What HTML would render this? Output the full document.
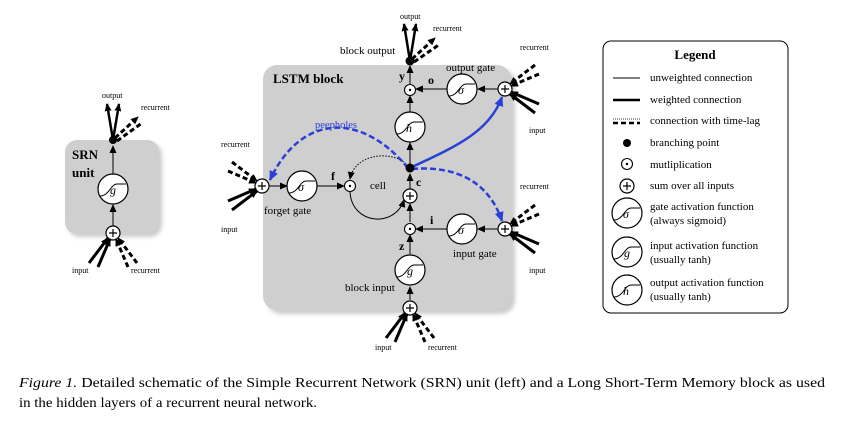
<!DOCTYPE html>
<html><head><meta charset="utf-8"><style>
html,body{margin:0;padding:0;background:#fff;}
svg{display:block;font-family:"Liberation Serif",serif;}
</style></head><body>
<svg width="847" height="423" viewBox="0 0 847 423" xmlns="http://www.w3.org/2000/svg">
<defs>
<marker id="a" markerUnits="userSpaceOnUse" markerWidth="8" markerHeight="8" refX="7" refY="4" orient="auto"><path d="M0,0.5 L8,4 L0,7.5 z" fill="#000"/></marker>
<marker id="b" markerUnits="userSpaceOnUse" markerWidth="10" markerHeight="10" refX="9" refY="5" orient="auto"><path d="M0,0.5 L10,5 L0,9.5 z" fill="#2a3fd8"/></marker>
<filter id="sh" x="-10%" y="-10%" width="130%" height="130%"><feGaussianBlur stdDeviation="2"/></filter>
<g id="act"><circle r="15" fill="#fff" stroke="#000" stroke-width="1.2"/><path d="M-13,7 C-4,7 -2,-5 4,-5 L13,-5" fill="none" stroke="#000" stroke-width="1"/></g>
<g id="sum"><circle r="7" fill="#fff" stroke="#000" stroke-width="1.2"/><path d="M-4,0 H4 M0,-4 V4" stroke="#000" stroke-width="1.2"/></g>
<g id="mul"><circle r="5.5" fill="#fff" stroke="#000" stroke-width="1.1"/><circle r="1.2" fill="#000"/></g>
<g id="inb"><line x1="-24" y1="30" x2="-5" y2="5" stroke="#000" stroke-width="3" marker-end="url(#a)"/><line x1="-15" y1="34" x2="-3" y2="6" stroke="#000" stroke-width="3" marker-end="url(#a)"/></g>
<g id="rcb"><line x1="24" y1="30" x2="5" y2="5" stroke="#000" stroke-width="3" stroke-dasharray="5,3" marker-end="url(#a)"/><line x1="15" y1="34" x2="3" y2="6" stroke="#000" stroke-width="3" stroke-dasharray="5,3" marker-end="url(#a)"/></g>
</defs>

<!-- SRN -->
<rect x="68" y="143" width="94" height="94" rx="12" fill="#999" opacity="0.5" filter="url(#sh)"/>
<rect x="65" y="140" width="94" height="94" rx="12" fill="#cfcfcf"/>
<text x="72" y="159" font-size="13" font-weight="bold">SRN</text>
<text x="72" y="177" font-size="13" font-weight="bold">unit</text>
<line x1="113" y1="226" x2="113" y2="205" stroke="#000" stroke-width="1" marker-end="url(#a)"/>
<line x1="113" y1="174" x2="113" y2="146" stroke="#000" stroke-width="1" marker-end="url(#a)"/>
<use href="#act" x="113" y="189"/>
<text x="110" y="194" font-size="12" font-style="italic">g</text>
<use href="#sum" x="113" y="233"/>
<g transform="translate(113,233)"><use href="#inb"/><use href="#rcb"/></g>
<circle cx="113" cy="140" r="4" fill="#000"/>
<line x1="113" y1="140" x2="107" y2="104" stroke="#000" stroke-width="2.5" marker-end="url(#a)"/>
<line x1="113" y1="140" x2="119" y2="104" stroke="#000" stroke-width="2.5" marker-end="url(#a)"/>
<line x1="115" y1="138" x2="138" y2="117" stroke="#000" stroke-width="3" stroke-dasharray="5,3" marker-end="url(#a)"/>
<line x1="117" y1="141" x2="142" y2="123" stroke="#000" stroke-width="3" stroke-dasharray="5,3"/>
<text x="102" y="98" font-size="8">output</text>
<text x="141" y="110" font-size="8">recurrent</text>
<text x="72" y="273" font-size="8">input</text>
<text x="131" y="273" font-size="8">recurrent</text>

<!-- LSTM box -->
<rect x="267" y="69" width="248" height="245" rx="14" fill="#999" opacity="0.5" filter="url(#sh)"/>
<rect x="263" y="65" width="248" height="245" rx="14" fill="#cfcfcf"/>
<text x="273" y="83" font-size="13" font-weight="bold">LSTM block</text>

<line x1="410" y1="300" x2="410" y2="287" stroke="#000" marker-end="url(#a)"/>
<line x1="410" y1="254" x2="410" y2="235" stroke="#000" marker-end="url(#a)"/>
<line x1="410" y1="222" x2="410" y2="204" stroke="#000" marker-end="url(#a)"/>
<line x1="410" y1="189" x2="410" y2="174" stroke="#000" marker-end="url(#a)"/>
<line x1="410" y1="168" x2="410" y2="143" stroke="#000" marker-end="url(#a)"/>
<line x1="410" y1="112" x2="410" y2="96" stroke="#000" marker-end="url(#a)"/>
<line x1="410" y1="84" x2="410" y2="66" stroke="#000" marker-end="url(#a)"/>
<line x1="498" y1="89" x2="478" y2="89" stroke="#000" marker-end="url(#a)"/>
<line x1="447" y1="89" x2="416" y2="89" stroke="#000" marker-end="url(#a)"/>
<line x1="498" y1="229" x2="478" y2="229" stroke="#000" marker-end="url(#a)"/>
<line x1="447" y1="229" x2="416" y2="229" stroke="#000" marker-end="url(#a)"/>
<line x1="269" y1="186" x2="287" y2="186" stroke="#000" marker-end="url(#a)"/>
<line x1="317" y1="186" x2="344" y2="186" stroke="#000" marker-end="url(#a)"/>
<path d="M350,192 C352,225 395,228 404,200" fill="none" stroke="#000" marker-end="url(#a)"/>
<path d="M408,166 C395,150 355,152 350,179" fill="none" stroke="#000" stroke-dasharray="1.5,1.5" marker-end="url(#a)"/>
<path d="M408,168 C360,110 300,115 270,180" fill="none" stroke="#2a3fd8" stroke-width="2.5" stroke-dasharray="6,3" marker-end="url(#b)"/>
<path d="M412,167 C460,145 490,130 502,97" fill="none" stroke="#2a3fd8" stroke-width="2.5" marker-end="url(#b)"/>
<path d="M412,169 C460,165 490,185 502,221" fill="none" stroke="#2a3fd8" stroke-width="2.5" stroke-dasharray="6,3" marker-end="url(#b)"/>
<text x="315" y="128" font-size="10.5" fill="#2a3fd8">peepholes</text>

<use href="#act" x="462" y="89"/><text x="458" y="94" font-size="12" font-style="italic">σ</text>
<use href="#act" x="462" y="229"/><text x="458" y="234" font-size="12" font-style="italic">σ</text>
<use href="#act" x="302" y="186"/><text x="298" y="191" font-size="12" font-style="italic">σ</text>
<use href="#act" x="410" y="127"/><text x="406" y="132" font-size="12" font-style="italic">h</text>
<use href="#act" x="410" y="270"/><text x="407" y="275" font-size="12" font-style="italic">g</text>
<use href="#mul" x="410" y="90"/>
<use href="#mul" x="410" y="229"/>
<use href="#mul" x="350" y="186"/>
<use href="#sum" x="410" y="196"/>
<use href="#sum" x="410" y="308"/>
<use href="#sum" x="505" y="89"/>
<use href="#sum" x="505" y="229"/>
<use href="#sum" x="262" y="186"/>
<circle cx="410" cy="168" r="4.5" fill="#000"/>
<circle cx="410" cy="61" r="4.5" fill="#000"/>

<g transform="translate(410,308)"><use href="#inb"/><use href="#rcb"/></g>
<g transform="translate(505,89) rotate(-90)"><use href="#inb"/><use href="#rcb"/></g>
<g transform="translate(505,229) rotate(-90)"><use href="#inb"/><use href="#rcb"/></g>
<g transform="translate(262,186) rotate(90) scale(-1,1)"><use href="#inb"/><use href="#rcb"/></g>
<line x1="410" y1="61" x2="404" y2="24" stroke="#000" stroke-width="2.5" marker-end="url(#a)"/>
<line x1="410" y1="61" x2="416" y2="24" stroke="#000" stroke-width="2.5" marker-end="url(#a)"/>
<line x1="412" y1="59" x2="435" y2="38" stroke="#000" stroke-width="3" stroke-dasharray="5,3" marker-end="url(#a)"/>
<line x1="414" y1="62" x2="440" y2="44" stroke="#000" stroke-width="3" stroke-dasharray="5,3"/>

<text x="400" y="19" font-size="8">output</text>
<text x="433" y="31" font-size="8">recurrent</text>
<text x="340" y="54" font-size="11">block output</text>
<text x="399" y="80" font-size="12" font-weight="bold">y</text>
<text x="428" y="84" font-size="12" font-weight="bold">o</text>
<text x="446" y="71" font-size="11">output gate</text>
<text x="520" y="50" font-size="8">recurrent</text>
<text x="529" y="133" font-size="8">input</text>
<text x="331" y="180" font-size="12" font-weight="bold">f</text>
<text x="370" y="189" font-size="11">cell</text>
<text x="416" y="186" font-size="12" font-weight="bold">c</text>
<text x="430" y="224" font-size="12" font-weight="bold">i</text>
<text x="399" y="250" font-size="12" font-weight="bold">z</text>
<text x="453" y="257" font-size="11">input gate</text>
<text x="520" y="189" font-size="8">recurrent</text>
<text x="529" y="273" font-size="8">input</text>
<text x="221" y="147" font-size="8">recurrent</text>
<text x="221" y="232" font-size="8">input</text>
<text x="264" y="214" font-size="11">forget gate</text>
<text x="345" y="291" font-size="11">block input</text>
<text x="375" y="350" font-size="8">input</text>
<text x="428" y="350" font-size="8">recurrent</text>

<!-- Legend -->
<rect x="603" y="41" width="185" height="272" rx="8" fill="#fff" stroke="#000" stroke-width="1"/>
<text x="695" y="59" font-size="13" font-weight="bold" text-anchor="middle">Legend</text>
<g font-size="11">
<line x1="613" y1="78" x2="640" y2="78" stroke="#000" stroke-width="1"/><text x="650" y="81">unweighted connection</text>
<line x1="613" y1="100" x2="640" y2="100" stroke="#000" stroke-width="2.5"/><text x="650" y="103">weighted connection</text>
<line x1="613" y1="119" x2="640" y2="119" stroke="#000" stroke-width="0.8" stroke-dasharray="1,1"/>
<line x1="613" y1="123" x2="640" y2="123" stroke="#000" stroke-width="2.5" stroke-dasharray="5,3"/><text x="650" y="124">connection with time-lag</text>
<circle cx="627" cy="143" r="4" fill="#000"/><text x="650" y="146">branching point</text>
<use href="#mul" x="627" y="164"/><text x="650" y="168">mutliplication</text>
<use href="#sum" x="627" y="186"/><text x="650" y="189">sum over all inputs</text>
<use href="#act" x="627" y="213"/><text x="623" y="218" font-size="12" font-style="italic">σ</text>
<text x="650" y="210">gate activation function</text><text x="650" y="224">(always sigmoid)</text>
<use href="#act" x="627" y="252"/><text x="624" y="257" font-size="12" font-style="italic">g</text>
<text x="650" y="249">input activation function</text><text x="650" y="263">(usually tanh)</text>
<use href="#act" x="627" y="290"/><text x="623" y="295" font-size="12" font-style="italic">h</text>
<text x="650" y="286">output activation function</text><text x="650" y="300">(usually tanh)</text>
</g>

<text x="19" y="387" font-size="14" textLength="806" lengthAdjust="spacingAndGlyphs"><tspan font-style="italic">Figure 1.</tspan> Detailed schematic of the Simple Recurrent Network (SRN) unit (left) and a Long Short-Term Memory block as used</text>
<text x="19" y="407" font-size="14" textLength="298" lengthAdjust="spacingAndGlyphs">in the hidden layers of a recurrent neural network.</text>
</svg>
</body></html>
